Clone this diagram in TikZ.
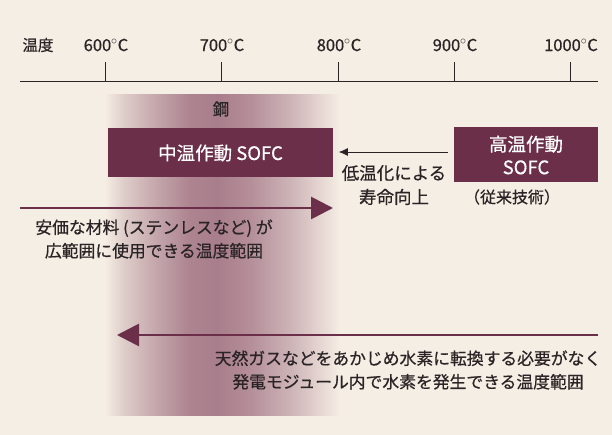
\documentclass[tikz,border=0pt]{standalone}
\usepackage{fontspec}
\setmainfont{Noto Sans CJK JP}[FakeBold=0.6]
\usetikzlibrary{arrows.meta}
\definecolor{bg}{HTML}{F5EEE4}
\definecolor{maroon}{HTML}{6C2F49}
\definecolor{mauve}{HTML}{A97E8C}
\definecolor{ink}{HTML}{2A2426}
\pgfdeclarehorizontalshading{steel}{100bp}{color(0bp)=(bg); color(25bp)=(bg); color(29bp)=(bg!70!mauve); color(36bp)=(bg!35!mauve); color(43bp)=(mauve!95!bg); color(49bp)=(mauve); color(56bp)=(mauve!85!bg); color(65bp)=(mauve!50!bg); color(71bp)=(mauve!20!bg); color(75bp)=(bg); color(100bp)=(bg)}
\tikzset{
  lbl/.style={text=ink, font=\fontsize{16.5}{19}\selectfont, inner sep=0pt},
  tick/.style={draw=ink, line width=0.8pt},
  darkbox/.style={fill=maroon, text=white, font=\fontsize{18.5}{23}\selectfont, align=center, inner sep=0pt},
  thinarrow/.style={draw=ink, line width=0.8pt, -{Latex[length=9pt,width=8pt]}},
  bigarrow/.style={draw=maroon, line width=2.8pt, -{Triangle[length=22pt,width=22pt]}},
  para/.style={text=ink, font=\fontsize{16.8}{23.5}\selectfont, align=center, inner sep=0pt}
}
\begin{document}
\begin{tikzpicture}[x=1pt,y=-1pt]
\fill[bg] (0,0) rectangle (612,435);
\useasboundingbox (0,0) rectangle (612,435);
% steel range shading
\shade[shading=steel] (105,95) rectangle (340,415);
% axis
\coordinate (axL) at (20,81);
\coordinate (axR) at (598,81);
\draw[tick] (axL) -- (axR);
\node[lbl, font=\fontsize{15.5}{19}\selectfont] (t0) at (38,45) {温度};
\foreach \x/\t [count=\i] in {105/600,221/700,338/800,454/900,570/1000}{
  \coordinate (tk\i) at (\x,81);
  \draw[tick] (tk\i) -- ++(0,-19);
  \node[lbl] (lab\i) at (\x+1,45) {\t$^{\circ}$C};
}
\node[lbl] (kou) at (221,109) {鋼};
% boxes
\node[darkbox, minimum width=225pt, minimum height=49pt] (mid) at (220.5,153) {中温作動 SOFC};
\node[darkbox, minimum width=144pt, minimum height=55pt] (high) at (526,155) {高温作動\\SOFC};
\node[lbl, font=\fontsize{16}{19}\selectfont] (conv) at (512,197) {（従来技術）};
% thin arrow
\draw[thinarrow] (high.west |- mid.east) ++(-6,-1) -- ++(-109,0);
\node[para, font=\fontsize{17.5}{24}\selectfont] (life) at (394,185) {低温化による\\寿命向上};
% big arrows
\coordinate (a1s) at (20,208);
\coordinate (a1e) at (333,208);
\draw[bigarrow] (a1s) -- (a1e);
\node[para] (cheap) at (154,239) {安価な材料 (ステンレスなど) が\\広範囲に使用できる温度範囲};
\coordinate (a2s) at (598,335);
\coordinate (a2e) at (117,335);
\draw[bigarrow] (a2s) -- (a2e);
\node[para] (gas) at (408,370) {天然ガスなどをあかじめ水素に転換する必要がなく\\発電モジュール内で水素を発生できる温度範囲};
\end{tikzpicture}
\end{document}
